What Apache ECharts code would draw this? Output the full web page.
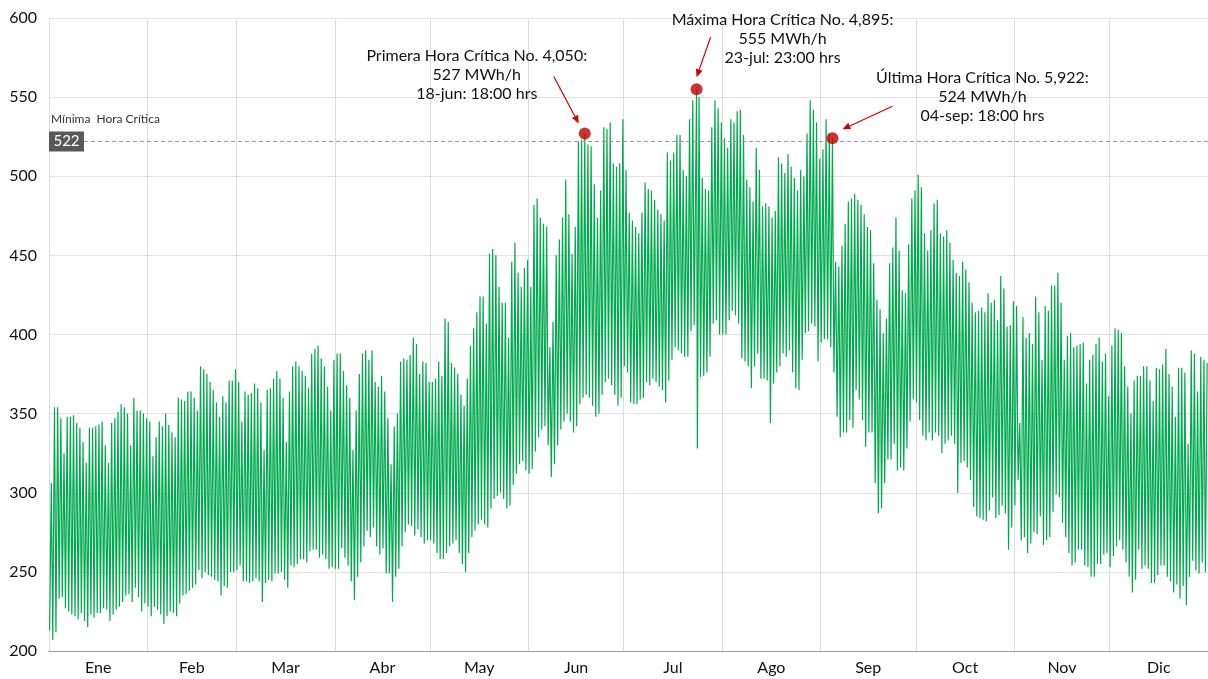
<!DOCTYPE html>
<html>
<head>
<meta charset="utf-8">
<script src="https://cdn.jsdelivr.net/npm/echarts@6/dist/echarts.min.js"></script>
<style>
  html, body { margin: 0; padding: 0; background: #fff; }
  #chart { width: 1208px; height: 679px; }
</style>
</head>
<body>
<div id="chart"></div>
<script>
var months = ['Ene','Feb','Mar','Abr','May','Jun','Jul','Ago','Sep','Oct','Nov','Dic'];
var monthDays = [31,28,31,30,31,30,31,31,30,31,30,31];
var yTicks = [200, 250, 300, 350, 400, 450, 500, 550, 600];

// picos diarios (MWh/h)
var maxEne = [306,354,354,347,325,348,348,349,344,341,332,319,341,341,342,343,345,330,319,344,347,351,356,354,350,330,360,352,352,350,347];
var maxFeb = [345,323,335,345,342,350,343,338,335,360,359,358,364,364,360,352,380,378,375,370,365,357,348,361,357,371,371,378];
var maxMar = [370,345,364,362,363,369,366,357,327,365,366,372,377,372,360,332,364,380,383,380,377,374,366,388,391,393,385,380,367,352,384];
var maxAbr = [388,388,377,368,360,327,352,375,388,390,384,390,370,367,374,364,347,318,342,350,383,385,384,387,398,394,375,383,382,370];
var maxMay = [370,372,383,374,410,408,382,379,375,362,355,372,393,404,414,424,424,407,451,454,450,430,420,420,398,446,458,439,430,442,447];
var maxJun = [430,482,486,474,470,468,392,408,450,460,474,498,476,451,468,522,523,527,520,519,495,474,491,531,530,534,508,506,508,536];
var maxJul = [504,477,472,468,464,477,496,492,491,485,479,476,472,515,510,515,526,526,504,500,536,548,555,550,499,492,491,531,548,543,534];
var maxAgo = [524,518,536,534,541,542,526,498,493,484,518,504,481,483,481,474,478,512,508,502,514,506,499,491,504,500,527,548,542,534,511];
var maxSep = [517,536,527,524,446,443,456,470,484,486,489,485,482,476,468,466,445,422,416,401,410,445,455,474,453,428,426,457,486,491];
var maxOct = [501,493,464,453,466,483,485,464,462,466,458,447,439,437,446,441,433,420,414,415,417,414,426,420,422,409,437,429,405,406,421];
var maxNov = [418,344,411,398,401,394,424,414,384,418,415,431,431,439,420,384,399,401,392,393,394,395,369,384,387,394,398,383,388,361];
var maxDic = [393,404,403,401,380,367,350,371,374,374,380,380,371,358,379,378,381,391,375,367,348,379,379,376,331,390,388,364,386,384,382];

// valles diarios (MWh/h)
var minEne = [213,207,212,233,234,227,225,223,222,220,224,219,215,223,221,224,224,227,226,219,223,226,228,231,235,236,231,240,234,225,230];
var minFeb = [228,222,228,226,223,217,222,225,224,222,230,235,236,238,240,242,251,246,250,248,247,245,244,235,241,240,250,250];
var minMar = [251,254,244,244,243,244,246,244,231,243,245,244,249,249,250,245,240,254,253,255,258,258,256,263,264,264,259,261,258,252,253];
var minAbr = [252,252,265,259,254,244,232,247,256,266,276,272,278,266,261,265,249,249,231,247,252,266,275,280,279,273,277,272,268,270];
var minMay = [270,268,262,258,258,262,266,268,270,262,255,250,262,272,276,280,283,280,278,290,296,298,300,296,290,292,305,312,318,320,314];
var minJun = [312,315,326,335,340,342,330,310,318,330,340,345,350,345,338,342,356,360,362,360,355,348,350,362,370,372,368,362,355,360];
var minJul = [380,376,357,356,356,359,360,370,368,372,370,367,365,357,371,384,392,390,388,386,386,402,406,328,373,374,376,386,407,409,400];
var minAgo = [400,400,409,415,412,407,385,383,380,366,380,388,372,372,371,344,369,376,380,388,386,390,376,366,365,384,401,402,407,405,383];
var minSep = [395,397,397,392,376,348,335,338,338,346,341,365,359,346,329,338,338,306,287,290,306,321,321,331,314,316,314,328,345,359];
var minOct = [357,346,336,333,338,333,338,336,325,331,333,336,331,300,319,320,316,308,291,285,284,283,282,289,297,284,286,292,287,264,278];
var minNov = [292,308,270,272,262,268,275,274,285,267,270,272,288,299,297,281,272,262,254,256,264,264,254,253,247,247,255,255,261,262];
var minDic = [253,260,266,270,264,256,247,237,245,264,252,254,252,243,243,248,254,254,247,244,237,242,233,241,229,247,257,251,249,256,250];

// horas críticas
var critHours = [4050, 4895, 5922];
var critValues = [527, 555, 524];
var critText = [
  'Primera Hora Crítica No. 4,050:\n527 MWh/h\n18-jun: 18:00 hrs',
  'Máxima Hora Crítica No. 4,895:\n555 MWh/h\n23-jul: 23:00 hrs',
  'Última Hora Crítica No. 5,922:\n524 MWh/h\n04-sep: 18:00 hrs'
];
var minCritica = 522;

(function(){
  var el = document.getElementById('chart');
  var c = echarts.init(el, null, { renderer: 'canvas' });
  var font = 'Lato, "DejaVu Sans", sans-serif';
  var grid = '#e3e3e3';
  var ink = '#111';

  var maxs = [maxEne,maxFeb,maxMar,maxAbr,maxMay,maxJun,maxJul,maxAgo,maxSep,maxOct,maxNov,maxDic];
  var mins = [minEne,minFeb,minMar,minAbr,minMay,minJun,minJul,minAgo,minSep,minOct,minNov,minDic];

  // hora del pico: 18:00, salvo en los días de horas críticas
  var peakAt = {};
  critHours.forEach(function(h){ peakAt[Math.floor((h - 1) / 24)] = (h - 1) % 24 + 0.5; });

  var pts = [], day = 0;
  var monthStart = [], monthMid = [];
  for (var m = 0; m < 12; m++) {
    monthStart.push(day * 24);
    monthMid.push((day + monthDays[m] / 2) * 24);
    for (var i = 0; i < monthDays[m]; i++) {
      var h0 = day * 24;
      pts.push([h0 + 4.5, mins[m][i]]);
      pts.push([h0 + (peakAt[day] != null ? peakAt[day] : 17.5), maxs[m][i]]);
      day++;
    }
  }
  var totalHours = day * 24;

  var crit = critHours.map(function(h, k){ return [h - 0.5, critValues[k]]; });

  c.setOption({
    animation: false,
    grid: { left: 49, right: 0, top: 18, bottom: 28 },
    xAxis: {
      type: 'value', min: 0, max: totalHours,
      axisLine: { show: true, lineStyle: { color: '#9a9a9a', width: 1 } },
      axisTick: { show: false, customValues: monthStart },
      axisLabel: {
        customValues: monthMid, color: ink, fontSize: 16, fontFamily: font, margin: 9,
        formatter: function(v){
          var k = monthMid.indexOf(v);
          return k >= 0 ? months[k] : '';
        }
      },
      splitLine: { show: true, lineStyle: { color: '#dddddd', width: 1 } }
    },
    yAxis: {
      type: 'value', min: yTicks[0], max: yTicks[yTicks.length - 1], interval: 50,
      axisLine: { show: false }, axisTick: { show: false },
      axisLabel: { color: ink, fontSize: 16, fontFamily: font, margin: 12 },
      splitLine: { lineStyle: { color: grid, width: 1 } }
    },
    series: [
      {
        type: 'line', data: pts, showSymbol: false, symbol: 'none',
        lineStyle: { color: '#00a94f', width: 1.2 },
        silent: true, z: 2,
        markLine: {
          silent: true, symbol: 'none',
          lineStyle: { color: '#9a9a9a', type: [4, 3], width: 1 },
          label: { show: false },
          data: [{ yAxis: minCritica }]
        }
      },
      {
        type: 'scatter', data: crit, symbol: 'circle', symbolSize: 12,
        itemStyle: { color: '#c00000' }, z: 5
      }
    ]
  });

  // anotaciones ligadas a cada punto crítico
  var textOff = [[-108, -87], [86, -79], [150, -70]];
  var arrowOff = [
    [[-31, -57], [-6, -10]],
    [[14, -52], [0, -12]],
    [[60, -32], [10, -9]]
  ];
  var g = [];
  crit.forEach(function(d, k){
    var p = c.convertToPixel({ gridIndex: 0 }, d);
    g.push({
      type: 'text', x: p[0] + textOff[k][0], y: p[1] + textOff[k][1], z: 10,
      style: { text: critText[k], align: 'center', verticalAlign: 'top',
        font: '16px ' + font, fill: ink, lineHeight: 19 }
    });
    var a = arrowOff[k];
    var x1 = p[0] + a[0][0], y1 = p[1] + a[0][1];
    var x2 = p[0] + a[1][0], y2 = p[1] + a[1][1];
    var ang = Math.atan2(y2 - y1, x2 - x1);
    var L = 8, W = 3.5;
    var bx = x2 - L * Math.cos(ang), by = y2 - L * Math.sin(ang);
    g.push({
      type: 'line', z: 10,
      shape: { x1: x1, y1: y1, x2: bx, y2: by },
      style: { stroke: '#d40000', lineWidth: 1.2 }
    });
    g.push({
      type: 'polygon', z: 10,
      shape: { points: [[x2, y2],
        [bx + W * Math.sin(ang), by - W * Math.cos(ang)],
        [bx - W * Math.sin(ang), by + W * Math.cos(ang)]] },
      style: { fill: '#d40000' }
    });
  });

  var q = c.convertToPixel({ gridIndex: 0 }, [0, minCritica]);
  g.push({
    type: 'text', x: q[0] + 2, y: q[1] - 22, z: 10,
    style: { text: 'Mínima  Hora Crítica', font: '12px ' + font, fill: '#333', verticalAlign: 'middle' }
  });
  g.push({
    type: 'rect', z: 10,
    shape: { x: q[0], y: q[1] - 10, width: 35, height: 20 },
    style: { fill: '#595959' }
  });
  g.push({
    type: 'text', x: q[0] + 17.5, y: q[1], z: 11,
    style: { text: String(minCritica), font: '15px ' + font, fill: '#fff', align: 'center', verticalAlign: 'middle' }
  });
  c.setOption({ graphic: g });

  window.addEventListener('resize', function(){ c.resize(); });
})();
</script>
</body>
</html>
